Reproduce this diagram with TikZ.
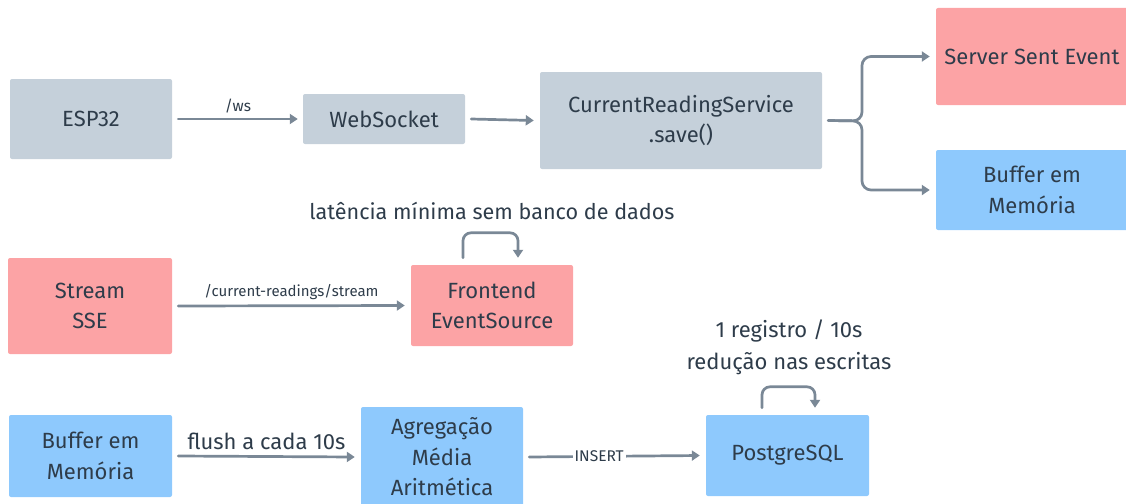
\documentclass[tikz,border=0pt]{standalone}
\usepackage{fontspec}
\setmainfont{Fira Sans}
\usetikzlibrary{arrows.meta}
\definecolor{greybox}{HTML}{C5D0DA}
\definecolor{redbox}{HTML}{FCA3A5}
\definecolor{bluebox}{HTML}{8EC9FD}
\definecolor{txt}{HTML}{2E3C4A}
\definecolor{arr}{HTML}{7A8896}
\begin{document}
\begin{tikzpicture}[x=1pt,y=-1pt,
  box/.style={rounded corners=2pt, align=center, text=txt, inner sep=0pt,
    font=\fontsize{22}{30.5}\selectfont},
  gbox/.style={box, fill=greybox},
  rbox/.style={box, fill=redbox},
  bbox/.style={box, fill=bluebox},
  conn/.style={draw=arr, line width=2.7pt, line cap=round,
    -{Triangle[length=8pt,width=10pt]}},
  lbl/.style={text=txt, inner sep=1pt},
]
\useasboundingbox (0,0) rectangle (1126,503);
\clip (0,0) rectangle (1126,503);

% row 1
\node[gbox, minimum width=162pt, minimum height=80pt] (esp) at (91,119) {ESP32};
\node[gbox, minimum width=162pt, minimum height=50pt] (ws) at (384,119) {WebSocket};
\node[gbox, minimum width=282pt, minimum height=97pt] (crs) at (681,120.5) {CurrentReadingService\\.save()};
\node[rbox, minimum width=192pt, minimum height=97pt] (sse) at (1032,56.5) {Server Sent Event};
\node[bbox, minimum width=192pt, minimum height=80pt] (buf1) at (1032,190) {Buffer em\\Memória};

\draw[conn] ([xshift=6pt]esp.east) -- node[lbl, above=4pt, font=\fontsize{15.5}{17}\selectfont] (lws) {/ws} ([xshift=-5pt]ws.west);
\draw[conn] ([xshift=6pt]ws.east) -- ([xshift=-6pt]crs.west);
\coordinate (br) at (862,121);
\draw[conn, rounded corners=9pt] ([xshift=6pt]crs.east) -- (br) |- ([xshift=-6pt]sse.west);
\draw[conn, rounded corners=9pt] ([xshift=6pt]crs.east) -- (br) |- ([xshift=-6pt]buf1.west);

% row 2
\node[lbl, font=\fontsize{21.6}{24}\selectfont] (lat) at (492,211) {latência mínima sem banco de dados};
\node[rbox, minimum width=164pt, minimum height=96pt] (stream) at (90,306) {Stream\\SSE};
\node[rbox, minimum width=162pt, minimum height=81pt] (fe) at (492,305.5) {Frontend\\EventSource};
\draw[conn] ([xshift=6pt]stream.east) -- node[lbl, above=4pt, font=\fontsize{15}{17}\selectfont] (lcr) {/current-readings/stream} ([xshift=-6pt]fe.west);
\draw[conn, rounded corners=8pt] ([xshift=-29pt,yshift=7pt]fe.north) |- ([xshift=26pt,yshift=32pt]fe.north) -- ([xshift=26pt,yshift=7pt]fe.north);

% row 3
\node[bbox, minimum width=163pt, minimum height=82pt] (buf2) at (90.5,456) {Buffer em\\Memória};
\node[bbox, minimum width=162pt, minimum height=100pt] (agg) at (442,457) {Agregação\\Média\\Aritmética};
\node[bbox, minimum width=163pt, minimum height=81pt] (pg) at (787.5,455.5) {PostgreSQL};
\draw[conn] ([xshift=6pt]buf2.east) -- node[lbl, above=4pt, font=\fontsize{22}{24}\selectfont] (lfl) {flush a cada 10s} ([xshift=-6pt]agg.west);
\draw[conn] ([xshift=6pt]agg.east) -- node[lbl, fill=white, inner xsep=2pt, font=\fontsize{15.5}{17}\selectfont, pos=0.41] (lins) {INSERT} ([xshift=-6pt]pg.west);
\node[lbl, align=center, font=\fontsize{22}{32}\selectfont] (lreg) at (789,347) {1 registro / 10s\\redução nas escritas};
\draw[conn, rounded corners=8pt] ([xshift=-25.5pt,yshift=7pt]pg.north) |- ([xshift=27.5pt,yshift=28pt]pg.north) -- ([xshift=27.5pt,yshift=7pt]pg.north);
\end{tikzpicture}
\end{document}
